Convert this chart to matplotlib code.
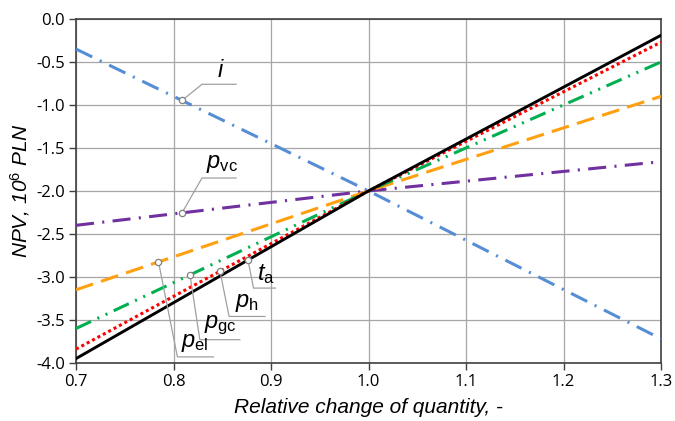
import numpy as np
import matplotlib
matplotlib.use("Agg")
import matplotlib.pyplot as plt

plt.rcParams['mathtext.fontset'] = 'custom'
plt.rcParams['mathtext.rm'] = 'Liberation Sans'
plt.rcParams['mathtext.it'] = 'Liberation Sans:italic'
plt.rcParams['lines.scale_dashes'] = False

x_vals = [0.7, 1.0, 1.3]
i_vals = [-0.35, -2.0, -3.72]
pvc_vals = [-2.40, -2.0, -1.66]
pel_vals = [-3.15, -2.0, -0.90]
pgc_vals = [-3.60, -2.0, -0.50]
ph_vals = [-3.84, -2.0, -0.27]
ta_vals = [-3.95, -2.0, -0.19]

x_ticks = [0.7, 0.8, 0.9, 1.0, 1.1, 1.2, 1.3]
y_ticks = [0.0, -0.5, -1.0, -1.5, -2.0, -2.5, -3.0, -3.5, -4.0]

fig = plt.figure(figsize=(6.75, 4.21), dpi=100)
ax = fig.add_axes([0.1126, 0.138, 0.8667, 0.817])

series = [
    ("i", i_vals, "#558ED5", (0, (13, 6, 1.5, 6)), 2.2),
    ("pvc", pvc_vals, "#7030A0", (0, (13, 6, 1.5, 6)), 2.2),
    ("pel", pel_vals, "#FFA010", (0, (13, 6)), 2.2),
    ("pgc", pgc_vals, "#00B050", (0, (12, 5, 1.5, 5, 1.5, 5)), 2.2),
    ("ph", ph_vals, "#FF0000", (0, (2.2, 2.2)), 2.2),
    ("ta", ta_vals, "#000000", "-", 2.1),
]
for name, vals, col, ls, lw in series:
    ax.plot(x_vals, vals, color=col, linestyle=ls, linewidth=lw, zorder=3)

ax.set_xlim(0.7, 1.3)
ax.set_ylim(-4.0, 0.0)
ax.set_xticks(x_ticks)
ax.set_yticks(y_ticks)
ax.set_xticklabels([f"{v:.1f}" for v in x_ticks], fontfamily="Open Sans", fontsize=12)
ax.set_yticklabels([f"{v:.1f}" for v in y_ticks], fontfamily="Open Sans", fontsize=12)
ax.grid(True, color="#A6A6A6", linewidth=0.9, zorder=0)
ax.tick_params(direction="out", length=5, width=1, color="#404040", pad=3)
for s in ax.spines.values():
    s.set_color("#404040")
    s.set_linewidth(1.2)

ax.set_xlabel("Relative change of quantity, -", fontfamily="Liberation Sans",
              fontstyle="italic", fontsize=15, labelpad=6)
ax.set_ylabel(r"NPV, 10$^{\mathit{6}}$ PLN", fontfamily="Liberation Sans",
              fontstyle="italic", fontsize=15, labelpad=3)

# annotations: (label, series values, x of point, elbow (x,y), underline end x, text (x,y))
ann = [
    (r"$\mathit{i}$", i_vals, 0.8087, (0.8292, -0.76), 0.8641, (0.845, -0.76)),
    (r"$\mathit{p}_{\mathrm{vc}}$", pvc_vals, 0.8087, (0.8292, -1.85), 0.8641, (0.833, -1.85)),
    (r"$\mathit{t}_{\mathrm{a}}$", ta_vals, 0.8764, (0.882, -3.13), 0.9046, (0.886, -3.13)),
    (r"$\mathit{p}_{\mathrm{h}}$", ph_vals, 0.8477, (0.857, -3.46), 0.8938, (0.863, -3.46)),
    (r"$\mathit{p}_{\mathrm{gc}}$", pgc_vals, 0.8169, (0.827, -3.73), 0.868, (0.831, -3.73)),
    (r"$\mathit{p}_{\mathrm{el}}$", pel_vals, 0.7846, (0.804, -3.93), 0.841, (0.808, -3.93)),
]
for lab, vals, xp, (ex, ey), ux, (tx, ty) in ann:
    yp = np.interp(xp, x_vals, vals)
    ax.plot([xp, ex, ux], [yp, ey, ey], color="#A0A0A0", linewidth=0.9, zorder=4, clip_on=False)
    ax.plot([xp], [yp], marker="o", markersize=4.5, markerfacecolor="white",
            markeredgecolor="#808080", markeredgewidth=0.9, zorder=5, clip_on=False)
    ax.text(tx, ty + 0.03, lab, fontsize=17, ha="left", va="bottom", zorder=6)

fig.savefig("out.png", dpi=100)
